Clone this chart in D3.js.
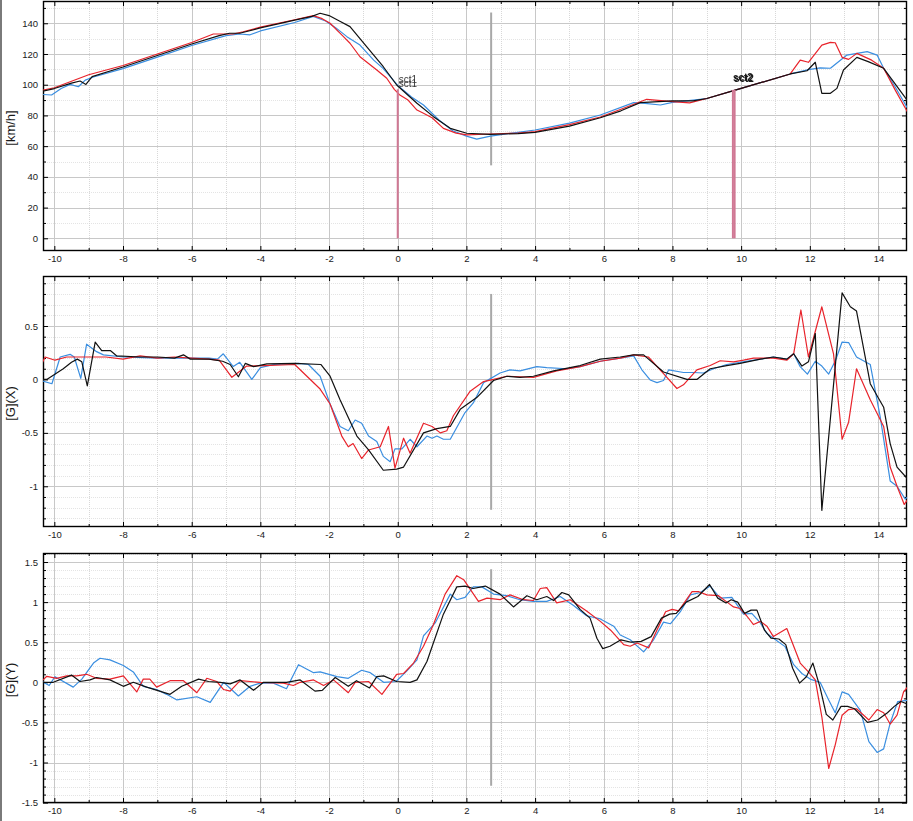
<!DOCTYPE html>
<html><head><meta charset="utf-8">
<script src="https://cdn.jsdelivr.net/npm/d3@7"></script>
<style>
html,body{margin:0;padding:0;background:#fff;}
svg{display:block;}
text{font-family:"Liberation Sans",Arial,sans-serif;}
</style></head>
<body>
<svg id="chart" width="913" height="821"></svg>
<script>
// ---------------- DATA ----------------
const xTicks = [-10,-8,-6,-4,-2,0,2,4,6,8,10,12,14];
const speedTicks = [0,20,40,60,80,100,120,140];
const gxTicks = [-1,-0.5,0,0.5];
const gyTicks = [-1.5,-1,-0.5,0,0.5,1,1.5];
const axisTitles = ["[km/h]","[G](X)","[G](Y)"];
const seriesNames = ["blue","red","black"];

const speedBlack = [[-10.4,95.5],[-10,97.5],[-9.5,101],[-9.25,102.4],[-9.08,100.2],[-8.9,105.3],[-8,111.5],[-7,119],[-6,126.5],[-5.2,132],[-4.9,133.5],[-4.6,133.5],[-4,137],[-3,142],[-2.5,144.5],[-2.26,146.5],[-2,145],[-1.7,141.5],[-1.39,137.8],[-0.9,124.7],[-0.42,111.7],[-0.03,99.8],[0.56,87.9],[1.04,79.2],[1.53,71.6],[2.01,68.4],[2.69,67.7],[3.5,68.2],[4,69],[5,73],[5.9,78.5],[6.5,83],[7.06,88.3],[8,89.5],[8.6,89.5],[9,91],[10,97.6],[11.43,107],[11.92,109.1],[12.16,114.6],[12.35,94.4],[12.6,94.4],[12.79,97.6],[12.98,109.6],[13.37,117.8],[13.7,115],[14.15,110.7],[14.5,100],[14.9,88]];
const speedBlue = [[-10.4,93.7],[-10.08,93.3],[-9.8,97.5],[-9.54,100.2],[-9.3,98.7],[-9.1,103],[-8.86,105],[-8,110.5],[-7,118],[-6,125.5],[-5,132],[-4.6,133],[-4.3,132.5],[-4,135],[-3,140.5],[-2.46,144.5],[-2.1,141.5],[-1.8,137],[-1.48,131.3],[-1.1,125.8],[-0.7,116],[-0.42,110.5],[0,99.5],[0.4,92],[0.75,86.8],[1.2,77],[1.6,70],[2.0,66.5],[2.3,64.6],[2.7,66.5],[3.5,69],[4,70.5],[5,75],[5.9,80.3],[6.87,88.3],[7.2,87.8],[7.65,86.8],[8,88.5],[9,91],[10,97.6],[11.43,107],[11.72,108.5],[11.96,109.8],[12.3,111],[12.6,110.7],[13.08,119.3],[13.67,121.5],[13.96,119.3],[14.15,110.7],[14.5,98],[14.9,82.5]];
const speedRed = [[-10.4,96.2],[-10,98],[-9,106.5],[-8,112.5],[-7,120],[-6,127.5],[-5.37,133],[-4.79,133],[-4.5,134.5],[-4,137.5],[-3,142.3],[-2.46,145],[-2.2,143],[-1.97,140],[-1.58,131.3],[-1.39,127],[-1.1,118.2],[-0.61,109.6],[-0.32,104.2],[-0.1,97],[0.05,93.5],[0.3,90],[0.56,83.5],[0.75,81.4],[1.0,78.5],[1.33,71.6],[1.7,68.5],[2.01,67.3],[2.69,67.9],[3.5,68.5],[4,69.5],[5,74],[5.9,79],[6.5,84],[7.25,90.5],[8,89],[8.5,88.2],[9,91],[10,97.6],[11.43,107],[11.72,116],[11.96,114.6],[12.35,125.8],[12.6,127.6],[12.74,127.3],[12.94,117.8],[13.13,116.5],[13.37,120.4],[13.8,116],[14.15,110.7],[14.5,96],[14.9,80]];

const gxBlack = [[-10.4,0.0],[-10.22,0.0],[-9.74,0.1],[-9.5,0.16],[-9.33,0.19],[-9.2,0.165],[-9.04,-0.06],[-8.81,0.35],[-8.62,0.27],[-8.37,0.27],[-8.18,0.22],[-7.5,0.21],[-7,0.21],[-6.5,0.2],[-6.24,0.23],[-6.04,0.19],[-5.5,0.19],[-5.1,0.17],[-4.88,0.14],[-4.64,0.025],[-4.44,0.15],[-4.2,0.12],[-3.81,0.145],[-3,0.15],[-2.24,0.14],[-1.97,0.03],[-1.68,-0.19],[-1.19,-0.53],[-0.85,-0.66],[-0.42,-0.85],[-0.03,-0.84],[0.17,-0.82],[0.75,-0.5],[1.14,-0.46],[1.53,-0.44],[1.82,-0.28],[2.3,-0.17],[2.79,-0.01],[3.18,0.03],[3.56,0.02],[3.95,0.03],[4.54,0.08],[5.31,0.13],[5.9,0.19],[6.48,0.21],[6.87,0.23],[7.16,0.23],[7.74,0.07],[8.42,0.0],[8.71,0.0],[9.1,0.1],[9.58,0.13],[9.97,0.15],[10.56,0.19],[10.94,0.21],[11.33,0.19],[11.53,0.24],[11.77,0.125],[11.96,0.165],[12.16,0.43],[12.35,-1.225],[12.94,0.81],[13.18,0.68],[13.36,0.64],[13.76,-0.04],[14.15,-0.26],[14.34,-0.6],[14.54,-0.82],[14.9,-0.95]];
const gxRed = [[-10.4,0.12],[-10.27,0.21],[-9.98,0.18],[-9.64,0.21],[-9.06,0.21],[-8.5,0.21],[-8,0.19],[-7.5,0.22],[-7,0.2],[-6.5,0.21],[-6,0.2],[-5.5,0.19],[-5.2,0.18],[-4.83,0.02],[-4.4,0.125],[-3.92,0.13],[-3,0.14],[-2.26,-0.09],[-1.97,-0.23],[-1.63,-0.53],[-1.44,-0.63],[-1.3,-0.6],[-1.05,-0.74],[-0.85,-0.66],[-0.51,-0.63],[-0.27,-0.44],[-0.08,-0.83],[0.17,-0.55],[0.36,-0.69],[0.75,-0.41],[1.0,-0.44],[1.24,-0.5],[1.43,-0.48],[1.62,-0.34],[2.11,-0.11],[2.5,-0.02],[2.79,0.0],[3.18,0.03],[3.95,0.02],[4.63,0.08],[5.31,0.12],[5.9,0.17],[6.48,0.2],[6.87,0.23],[7.3,0.21],[7.74,0.055],[8.13,-0.085],[8.32,-0.05],[8.71,0.09],[9.1,0.13],[9.39,0.175],[9.78,0.165],[10.07,0.18],[10.36,0.2],[10.94,0.2],[11.33,0.18],[11.53,0.24],[11.74,0.65],[11.96,0.21],[12.35,0.68],[12.69,0.24],[12.94,-0.56],[13.13,-0.4],[13.36,0.1],[13.76,-0.19],[14.15,-0.44],[14.34,-0.82],[14.54,-1.0],[14.75,-1.17],[14.9,-1.1]];
const gxBlue = [[-10.4,-0.01],[-10.07,-0.04],[-9.83,0.21],[-9.54,0.235],[-9.42,0.21],[-9.23,0.01],[-9.06,0.33],[-8.77,0.26],[-8.57,0.23],[-8,0.21],[-7,0.2],[-6,0.2],[-5.5,0.2],[-5.25,0.19],[-5.08,0.24],[-4.79,0.12],[-4.6,0.16],[-4.25,0.0],[-4.0,0.11],[-3.6,0.14],[-2.88,0.15],[-2.6,0.14],[-2.26,0.03],[-1.97,-0.23],[-1.68,-0.44],[-1.44,-0.48],[-1.24,-0.38],[-1.05,-0.41],[-0.85,-0.53],[-0.61,-0.58],[-0.42,-0.72],[-0.22,-0.77],[-0.08,-0.65],[0.12,-0.65],[0.36,-0.56],[0.56,-0.63],[0.85,-0.53],[1.0,-0.55],[1.14,-0.53],[1.33,-0.56],[1.53,-0.56],[1.96,-0.31],[2.2,-0.22],[2.5,-0.03],[2.98,0.06],[3.27,0.09],[3.56,0.08],[4.05,0.12],[4.34,0.11],[4.92,0.10],[5.31,0.12],[5.9,0.17],[6.48,0.2],[6.87,0.22],[7.11,0.09],[7.35,-0.005],[7.55,-0.03],[7.74,-0.01],[7.89,0.09],[8.32,0.065],[8.61,0.065],[8.9,0.06],[9.2,0.1],[9.58,0.14],[9.97,0.16],[10.56,0.19],[10.94,0.21],[11.33,0.19],[11.53,0.24],[11.72,0.12],[11.93,0.05],[12.16,0.17],[12.35,0.125],[12.55,0.05],[12.75,0.18],[12.94,0.35],[13.13,0.345],[13.36,0.21],[13.76,0.14],[14.05,-0.35],[14.34,-0.95],[14.54,-1.0],[14.78,-1.12],[14.9,-1.08]];

const gyBlack = [[-10.4,0.0],[-10.03,0.0],[-9.5,0.09],[-9.25,0.01],[-8.96,0.03],[-8.77,0.06],[-8.38,0.03],[-7.99,-0.05],[-7.7,0.0],[-7.31,-0.06],[-6.63,-0.15],[-6.29,-0.05],[-5.8,0.04],[-5.51,0.01],[-5.17,0.0],[-4.88,-0.02],[-4.59,0.03],[-4.2,-0.1],[-3.91,0.0],[-3.24,0.0],[-2.84,0.03],[-2.41,-0.11],[-2.2,-0.1],[-1.82,0.06],[-1.44,-0.05],[-1.2,0.02],[-0.82,-0.07],[-0.61,0.07],[-0.41,0.08],[-0.03,0.01],[0.36,0.0],[0.56,0.03],[0.85,0.26],[1.33,0.85],[1.72,1.19],[1.96,1.2],[2.2,1.17],[2.55,1.2],[2.98,1.1],[3.37,0.94],[3.76,1.08],[4.05,1.03],[4.34,1.07],[4.54,1.02],[4.78,1.12],[4.98,1.09],[5.31,0.91],[5.6,0.8],[5.8,0.55],[5.97,0.42],[6.18,0.45],[6.5,0.53],[6.8,0.5],[7.09,0.51],[7.38,0.57],[7.68,0.8],[7.92,0.85],[8.11,0.86],[8.4,1.0],[8.74,1.07],[9.08,1.22],[9.32,1.05],[9.56,0.99],[9.71,1.03],[9.9,1.0],[10.1,0.86],[10.29,0.9],[10.46,0.9],[10.68,0.65],[10.87,0.55],[11.1,0.54],[11.3,0.47],[11.5,0.175],[11.7,-0.01],[11.9,0.07],[12.09,0.24],[12.29,-0.05],[12.48,-0.4],[12.67,-0.47],[12.91,-0.3],[13.1,-0.3],[13.3,-0.33],[13.68,-0.5],[13.97,-0.47],[14.26,-0.38],[14.46,-0.3],[14.65,-0.24],[14.9,-0.28]];
const gyRed = [[-10.4,0.0],[-10.22,0.075],[-9.93,0.05],[-9.64,0.08],[-9.35,0.08],[-9.06,0.1],[-8.77,0.05],[-8.38,0.04],[-7.99,0.08],[-7.6,-0.12],[-7.41,0.04],[-7.22,0.04],[-7.02,-0.06],[-6.63,0.02],[-6.24,0.02],[-5.85,-0.13],[-5.56,0.05],[-5.27,0.01],[-5.07,-0.09],[-4.88,-0.11],[-4.59,0.02],[-4.01,0.0],[-3.33,-0.01],[-3.04,-0.04],[-2.84,0.0],[-2.45,0.03],[-2.16,-0.04],[-1.87,0.03],[-1.44,-0.13],[-1.24,0.0],[-0.85,0.01],[-0.46,-0.15],[-0.03,0.1],[0.17,0.11],[0.46,0.24],[0.75,0.45],[1.04,0.72],[1.38,1.1],[1.72,1.33],[1.92,1.28],[2.35,1.01],[2.6,1.05],[2.98,1.03],[3.27,1.09],[3.66,1.03],[3.95,1.02],[4.15,1.17],[4.34,1.18],[4.63,0.99],[5.02,1.03],[5.5,0.89],[5.9,0.76],[6.2,0.65],[6.58,0.47],[6.77,0.45],[6.97,0.49],[7.31,0.43],[7.6,0.7],[7.8,0.88],[7.99,0.91],[8.18,0.89],[8.57,1.13],[8.77,1.13],[9.0,1.09],[9.34,1.08],[9.59,1.0],[9.78,0.94],[9.97,0.92],[10.16,0.83],[10.36,0.72],[10.56,0.76],[10.75,0.7],[10.94,0.57],[11.33,0.67],[11.72,0.24],[11.96,0.13],[12.16,0.03],[12.35,-0.43],[12.55,-1.075],[12.74,-0.78],[12.94,-0.41],[13.13,-0.34],[13.36,-0.33],[13.72,-0.47],[13.96,-0.34],[14.15,-0.38],[14.34,-0.52],[14.54,-0.41],[14.73,-0.12],[14.9,-0.03]];
const gyBlue = [[-10.4,0.02],[-10.15,-0.04],[-9.98,0.07],[-9.45,-0.06],[-9.2,0.04],[-8.86,0.24],[-8.67,0.3],[-8.38,0.28],[-7.99,0.21],[-7.7,0.13],[-7.41,-0.05],[-7.02,-0.09],[-6.73,-0.15],[-6.43,-0.22],[-5.85,-0.18],[-5.46,-0.25],[-5.07,0.0],[-4.64,-0.17],[-4.3,-0.05],[-4.01,-0.01],[-3.62,-0.01],[-3.24,-0.08],[-2.89,0.22],[-2.45,0.12],[-2.26,0.13],[-1.77,0.07],[-1.44,0.05],[-1.05,0.15],[-0.8,0.12],[-0.41,0.0],[-0.05,0.01],[0.26,0.14],[0.56,0.28],[0.75,0.58],[1.09,0.74],[1.53,1.1],[1.72,1.03],[1.96,1.06],[2.2,1.19],[2.45,1.19],[2.79,1.1],[3.18,1.08],[3.56,1.03],[3.95,1.01],[4.34,1.01],[4.73,1.07],[5.11,0.96],[5.5,0.83],[5.9,0.79],[6.29,0.7],[6.48,0.59],[6.77,0.53],[7.16,0.38],[7.45,0.53],[7.74,0.75],[7.94,0.73],[8.23,0.88],[8.52,1.09],[8.81,1.12],[9.1,1.2],[9.39,1.05],[9.73,1.06],[10.07,0.85],[10.31,0.86],[10.56,0.74],[10.75,0.61],[10.94,0.55],[11.28,0.445],[11.53,0.22],[11.77,0.11],[12.01,0.04],[12.3,0.0],[12.55,-0.22],[12.74,-0.38],[12.94,-0.12],[13.13,-0.15],[13.47,-0.35],[13.72,-0.74],[13.96,-0.875],[14.15,-0.83],[14.34,-0.51],[14.56,-0.24],[14.9,-0.22]];

// markers: sections (time, top speed) and cursor (time, per-panel extent)
const sectionMarkers = [{name:"sct1", t:0, top:97},{name:"sct2", t:9.76, top:96.6},{name:"sct2", t:9.81, top:96.6}];
const sectionLabels = [{name:"sct1", t:0, v:101},{name:"sct2", t:9.76, v:102.5}];
const cursorTime = 2.72;
const cursorExtents = [[147,47.5],[0.8,-1.22],[1.41,-1.29]];

// ---------------- LAYOUT ----------------
const colors = {blue:"#3a8ee0", red:"#e8232b", black:"#111111"};
const plotLeft = 43, plotRight = 907;
const panels = [
  {top:1, bottom:251, domain:[-8.27,154.5], ticks:speedTicks, minor:10, series:{blue:speedBlue, red:speedRed, black:speedBlack}},
  {top:276, bottom:527, domain:[-1.381,0.968], ticks:gxTicks, minor:0.1, series:{blue:gxBlue, red:gxRed, black:gxBlack}},
  {top:553, bottom:803, domain:[-1.505,1.6125], ticks:gyTicks, minor:0.1, series:{blue:gyBlue, red:gyRed, black:gyBlack}}
];
const fmt = d => String(+d.toFixed(2));

const svg = d3.select("#chart");
const defs = svg.append("defs");
const f1 = defs.append("filter").attr("id","dbl1").attr("x","-10%").attr("y","-50%").attr("width","130%").attr("height","220%");
f1.append("feOffset").attr("in","SourceGraphic").attr("dx",0).attr("dy",4).attr("result","o");
const m1 = f1.append("feMerge"); m1.append("feMergeNode").attr("in","o"); m1.append("feMergeNode").attr("in","SourceGraphic");
const f2 = defs.append("filter").attr("id","dbl2").attr("x","-10%").attr("y","-50%").attr("width","130%").attr("height","220%");
f2.append("feOffset").attr("in","SourceGraphic").attr("dx",1).attr("dy",1).attr("result","o");
const m2 = f2.append("feMerge"); m2.append("feMergeNode").attr("in","o"); m2.append("feMergeNode").attr("in","SourceGraphic");

svg.append("rect").attr("x",0).attr("y",0).attr("width",913).attr("height",821).attr("fill","#ffffff");
svg.append("rect").attr("x",0).attr("y",0).attr("width",2).attr("height",821).attr("fill","#7a7a7a");

const x = d3.scaleLinear().domain([-10.33,14.83]).range([plotLeft,plotRight]);
const xMinor = d3.range(-10,15,1).filter(v=>v%2!==0);
const tickFont = "9.5px";

panels.forEach((p,pi)=>{
  const y = d3.scaleLinear().domain(p.domain).range([p.bottom,p.top]);
  const g = svg.append("g");
  const clipId = "clip"+pi;
  defs.append("clipPath").attr("id",clipId).append("rect")
     .attr("x",plotLeft).attr("y",p.top).attr("width",plotRight-plotLeft).attr("height",p.bottom-p.top);

  const [d0,d1] = p.domain;
  const minorVals = [];
  for(let v=Math.ceil(d0/p.minor)*p.minor; v<=d1+1e-9; v+=p.minor){
    const r = Math.round(v/p.minor)*p.minor;
    if(!p.ticks.some(t=>Math.abs(t-r)<1e-6)) minorVals.push(r);
  }
  g.selectAll(".ymin").data(minorVals).join("line")
    .attr("x1",plotLeft).attr("x2",plotRight).attr("y1",d=>Math.round(y(d))+0.5).attr("y2",d=>Math.round(y(d))+0.5)
    .attr("stroke","#e4e4e4").attr("stroke-width",1).attr("stroke-dasharray","1,1");
  g.selectAll(".xmin").data(xMinor).join("line")
    .attr("x1",d=>Math.round(x(d))+0.5).attr("x2",d=>Math.round(x(d))+0.5).attr("y1",p.top).attr("y2",p.bottom)
    .attr("stroke","#d8d8d8").attr("stroke-width",1).attr("stroke-dasharray","1,1");
  g.selectAll(".ymaj").data(p.ticks).join("line")
    .attr("x1",plotLeft).attr("x2",plotRight).attr("y1",d=>Math.round(y(d))+0.5).attr("y2",d=>Math.round(y(d))+0.5)
    .attr("stroke","#c8c8c8").attr("stroke-width",1);
  g.selectAll(".xmaj").data(xTicks).join("line")
    .attr("x1",d=>Math.round(x(d))+0.5).attr("x2",d=>Math.round(x(d))+0.5).attr("y1",p.top).attr("y2",p.bottom)
    .attr("stroke","#c8c8c8").attr("stroke-width",1);

  const axL = d3.axisLeft(y).tickValues(p.ticks).tickSize(-5).tickPadding(5).tickFormat(fmt);
  const axR = d3.axisRight(y).tickValues(p.ticks).tickSize(-5).tickFormat("");
  const axB = d3.axisBottom(x).tickValues(xTicks).tickSize(-5).tickPadding(4).tickFormat(fmt);
  const axT = d3.axisTop(x).tickValues(xTicks).tickSize(-5).tickFormat("");
  const axLm = d3.axisLeft(y).tickValues(minorVals).tickSize(-3).tickFormat("");
  const axRm = d3.axisRight(y).tickValues(minorVals).tickSize(-3).tickFormat("");
  const axBm = d3.axisBottom(x).tickValues(xMinor).tickSize(-3).tickFormat("");
  const axTm = d3.axisTop(x).tickValues(xMinor).tickSize(-3).tickFormat("");
  const styleAx = sel => { sel.select(".domain").remove(); sel.selectAll("line").attr("stroke","#000"); sel.selectAll("text").attr("fill","#1a1a1a").style("font-size",tickFont).style("font-family","'Liberation Sans',Arial,sans-serif"); };
  g.append("g").attr("transform",`translate(${plotLeft},0)`).call(axL).call(styleAx);
  g.append("g").attr("transform",`translate(${plotLeft},0)`).call(axLm).call(styleAx);
  g.append("g").attr("transform",`translate(${plotRight},0)`).call(axR).call(styleAx);
  g.append("g").attr("transform",`translate(${plotRight},0)`).call(axRm).call(styleAx);
  g.append("g").attr("transform",`translate(0,${p.bottom})`).call(axB).call(styleAx);
  g.append("g").attr("transform",`translate(0,${p.bottom})`).call(axBm).call(styleAx);
  g.append("g").attr("transform",`translate(0,${p.top})`).call(axT).call(styleAx);
  g.append("g").attr("transform",`translate(0,${p.top})`).call(axTm).call(styleAx);

  g.append("rect").attr("x",plotLeft+0.5).attr("y",p.top+0.5).attr("width",plotRight-plotLeft-1).attr("height",p.bottom-p.top-1)
    .attr("fill","none").attr("stroke","#000").attr("stroke-width",1.4);

  g.append("text").attr("transform",`translate(15,${(p.top+p.bottom)/2+2}) rotate(-90)`)
    .attr("text-anchor","middle").style("font-size","13px").attr("fill","#1a1a1a").text(axisTitles[pi]);

  const plot = g.append("g").attr("clip-path",`url(#${clipId})`);

  const ce = cursorExtents[pi];
  plot.append("line").attr("x1",x(cursorTime)).attr("x2",x(cursorTime)).attr("y1",y(ce[0])).attr("y2",y(ce[1]))
    .attr("stroke","#a8a8a8").attr("stroke-width",2);

  const line = d3.line().x(d=>x(d[0])).y(d=>y(d[1]));
  seriesNames.forEach(n=>{
    plot.append("path").datum(p.series[n]).attr("d",line).attr("fill","none")
      .attr("stroke",colors[n]).attr("stroke-width",1.2).attr("stroke-linejoin","round");
  });

  if(pi===0){
    sectionMarkers.forEach(m=>{
      plot.append("line").attr("x1",x(m.t)).attr("x2",x(m.t)).attr("y1",y(0)).attr("y2",y(m.top))
        .attr("stroke","#d07894").attr("stroke-width",2);
    });
    sectionLabels.forEach((l,i)=>{
      plot.append("text").attr("x",x(l.t)+(i===0?1:0)).attr("y",y(l.v))
        .style("font-size","10px").style("font-weight",i===0?"normal":"bold")
        .attr("fill",i===0?"#3a3a3a":"#1a1a1a")
        .attr("filter",`url(#${i===0?"dbl1":"dbl2"})`).text(l.name);
    });
  }
});
</script>
</body></html>
